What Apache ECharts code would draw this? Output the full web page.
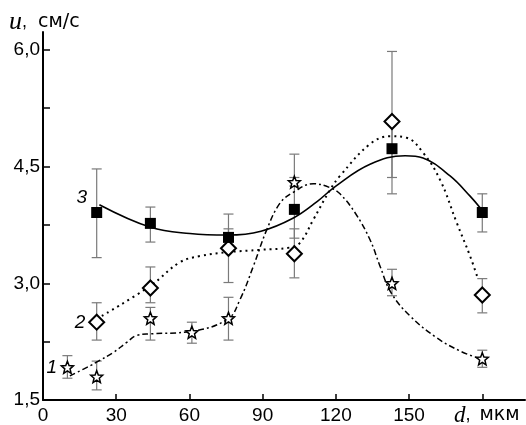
<!DOCTYPE html>
<html><head><meta charset="utf-8">
<script src="https://cdn.jsdelivr.net/npm/echarts@6/dist/echarts.min.js"></script>
<style>html,body{margin:0;padding:0;background:#fff}#c{width:526px;height:425px}</style>
</head><body><div id="c"></div>
<script>
// ---- data ----
const starX = [10, 22, 44, 61, 76, 103, 143, 180];
const starY = [1.92, 1.80, 2.55, 2.37, 2.55, 4.30, 3.00, 2.03];
const starLow = [1.78, 1.63, 2.27, 2.23, 2.27, 4.25, 2.84, 1.92];
const starHigh = [2.07, 2.00, 2.69, 2.50, 2.82, 4.36, 3.18, 2.14];

const diamondX = [22, 44, 76, 103, 143, 180];
const diamondY = [2.50, 2.94, 3.45, 3.38, 5.08, 2.85];
const diamondLow = [2.27, 2.75, 3.01, 3.07, 4.15, 2.62];
const diamondHigh = [2.75, 3.21, 3.89, 3.70, 5.98, 3.06];

const squareX = [22, 44, 76, 103, 143, 180];
const squareY = [3.91, 3.77, 3.59, 3.95, 4.73, 3.91];
const squareLow = [3.33, 3.53, 3.48, 3.58, 4.36, 3.66];
const squareHigh = [4.47, 3.98, 3.70, 4.66, 5.10, 4.15];

// fitted curves
const curve1X = [11, 19.3, 22.7, 28.8, 34.3, 38.4, 44.1, 60.2, 75.7, 80.7, 86.2, 91.7, 97.1, 102.6, 110.8, 117.6, 121.7, 128, 134, 138.1, 142.6, 150.4, 161.3, 170.9, 179.1];
const curve1Y = [1.81, 1.94, 2.00, 2.11, 2.24, 2.33, 2.35, 2.38, 2.54, 2.79, 3.22, 3.69, 4.03, 4.17, 4.28, 4.23, 4.15, 3.90, 3.56, 3.22, 2.88, 2.58, 2.30, 2.13, 2.03];
const curve2X = [24.1, 44.1, 56.1, 64.3, 75.7, 88.9, 101.2, 105.3, 110.8, 117.6, 121.7, 134, 142.2, 149, 155.7, 162.7, 169.5, 175, 178.3];
const curve2Y = [2.58, 2.97, 3.27, 3.35, 3.40, 3.43, 3.46, 3.52, 3.82, 4.20, 4.38, 4.79, 4.89, 4.87, 4.68, 4.33, 3.78, 3.35, 3.05];
const curve3X = [23.1, 44.1, 60.2, 75.7, 89.3, 102.6, 112.3, 120, 134, 148.4, 155.7, 166.8, 175, 179.1];
const curve3Y = [4.01, 3.72, 3.64, 3.62, 3.67, 3.84, 4.05, 4.25, 4.53, 4.64, 4.61, 4.38, 4.12, 3.97];

const xTickValues = [30, 60, 90, 120, 150, 180];
const xLabelValues = [0, 30, 60, 90, 120, 150];
const yTickValues = [1.5, 2.25, 3.0, 3.75, 4.5, 5.25, 6.0];
const yLabelValues = [1.5, 3.0, 4.5, 6.0];

const curveLabels = ['1', '2', '3'];
const curveLabelX = [3.6, 15.2, 15.9];
const curveLabelY = [1.92, 2.49, 4.10];

// ---- helpers ----
function zip(xs, ys) { return xs.map((x, i) => [x, ys[i]]); }
function starPath() {
  const pts = [];
  for (let i = 0; i < 10; i++) {
    const a = (-90 + i * 36) * Math.PI / 180;
    const r = i % 2 === 0 ? 50 : 22;
    pts.push((50 + r * Math.cos(a)).toFixed(2) + ',' + (50 + r * Math.sin(a)).toFixed(2));
  }
  return 'path://M' + pts.join('L') + 'Z';
}
function errData(xs, lo, hi) { return xs.map((x, i) => [x, lo[i], hi[i]]); }
function errSeries(data) {
  return {
    type: 'custom', z: 1, silent: true,
    data: data,
    encode: { x: 0, y: [1, 2] },
    renderItem: function (params, api) {
      const x = api.value(0);
      const a = api.coord([x, api.value(1)]);
      const b = api.coord([x, api.value(2)]);
      const w = 5;
      const st = { stroke: '#7a7a7a', lineWidth: 1.2 };
      return { type: 'group', children: [
        { type: 'line', shape: { x1: a[0], y1: a[1], x2: b[0], y2: b[1] }, style: st },
        { type: 'line', shape: { x1: a[0] - w, y1: a[1], x2: a[0] + w, y2: a[1] }, style: st },
        { type: 'line', shape: { x1: b[0] - w, y1: b[1], x2: b[0] + w, y2: b[1] }, style: st }
      ]};
    }
  };
}
const FONT = 'Liberation Sans, Arial, sans-serif';
const SERIF = 'Liberation Serif, Times New Roman, serif';

const chart = echarts.init(document.getElementById('c'), null, { renderer: 'canvas' });
const option = {
  animation: false,
  backgroundColor: '#fff',
  grid: { left: 43, right: 1, top: 32, bottom: 24, containLabel: false },
  xAxis: {
    type: 'value', min: 0, max: 197.5,
    splitLine: { show: false },
    axisLine: { lineStyle: { color: '#000', width: 2 } },
    axisTick: { inside: true, length: 6, lineStyle: { color: '#000', width: 1.5 }, customValues: xTickValues },
    axisLabel: { color: '#000', fontSize: 19, fontFamily: FONT, margin: 6, customValues: xLabelValues,
      formatter: v => String(v) }
  },
  yAxis: {
    type: 'value', min: 1.5, max: 6.23,
    splitLine: { show: false },
    axisLine: { lineStyle: { color: '#000', width: 2 } },
    axisTick: { inside: true, length: 7, lineStyle: { color: '#000', width: 1.5 }, customValues: yTickValues },
    axisLabel: { color: '#000', fontSize: 19, fontFamily: FONT, margin: 3, customValues: yLabelValues,
      padding: [0, 0, 4, 0],
      formatter: v => Number(v).toFixed(1).replace('.', ',') }
  },
  series: [
    errSeries(errData(starX, starLow, starHigh)),
    errSeries(errData(diamondX, diamondLow, diamondHigh)),
    errSeries(errData(squareX, squareLow, squareHigh)),
    { type: 'line', z: 2, smooth: 0.4, symbol: 'none', silent: true, data: zip(curve1X, curve1Y),
      lineStyle: { color: '#000', width: 1.5, type: [6, 3, 2, 3] } },
    { type: 'line', z: 2, smooth: 0.4, symbol: 'none', silent: true, data: zip(curve2X, curve2Y),
      lineStyle: { color: '#000', width: 2, type: [2, 4] } },
    { type: 'line', z: 2, smooth: 0.4, symbol: 'none', silent: true, data: zip(curve3X, curve3Y),
      lineStyle: { color: '#000', width: 1.6, type: 'solid' } },
    { type: 'scatter', z: 3, data: zip(starX, starY), symbol: starPath(), symbolSize: 12,
      itemStyle: { color: '#fff', borderColor: '#000', borderWidth: 1.5, opacity: 1 } },
    { type: 'scatter', z: 3, data: zip(diamondX, diamondY), symbol: 'diamond', symbolSize: [15, 15],
      itemStyle: { color: '#fff', borderColor: '#000', borderWidth: 2, opacity: 1 } },
    { type: 'scatter', z: 3, data: zip(squareX, squareY), symbol: 'rect', symbolSize: 11,
      itemStyle: { color: '#000', opacity: 1 } }
  ]
};
chart.setOption(option);

const graphics = [
  { type: 'text', left: 9, top: 9, style: {
      text: '{i|u}{c|,}{n|см/с}', rich: {
        i: { fontFamily: SERIF, fontStyle: 'italic', fontSize: 26, fill: '#000' },
        c: { fontFamily: FONT, fontSize: 18, fill: '#000', width: 16 },
        n: { fontFamily: 'DejaVu Sans, sans-serif', fontSize: 19, fill: '#000' } } } },
  { type: 'text', left: 454, top: 404, style: {
      text: '{i|d}{c|,}{n|мкм}', rich: {
        i: { fontFamily: SERIF, fontStyle: 'italic', fontSize: 23, fill: '#000' },
        c: { fontFamily: FONT, fontSize: 18, fill: '#000', width: 14 },
        n: { fontFamily: 'DejaVu Sans, sans-serif', fontSize: 19, fill: '#000' } } } }
];
curveLabels.forEach((t, i) => {
  const p = chart.convertToPixel({ gridIndex: 0 }, [curveLabelX[i], curveLabelY[i]]);
  graphics.push({ type: 'text', x: p[0], y: p[1], style: {
    text: t, fontFamily: FONT, fontStyle: 'italic', fontSize: 19, fill: '#000', align: 'center', verticalAlign: 'middle' } });
});
chart.setOption({ graphic: graphics });
</script>
</body></html>
